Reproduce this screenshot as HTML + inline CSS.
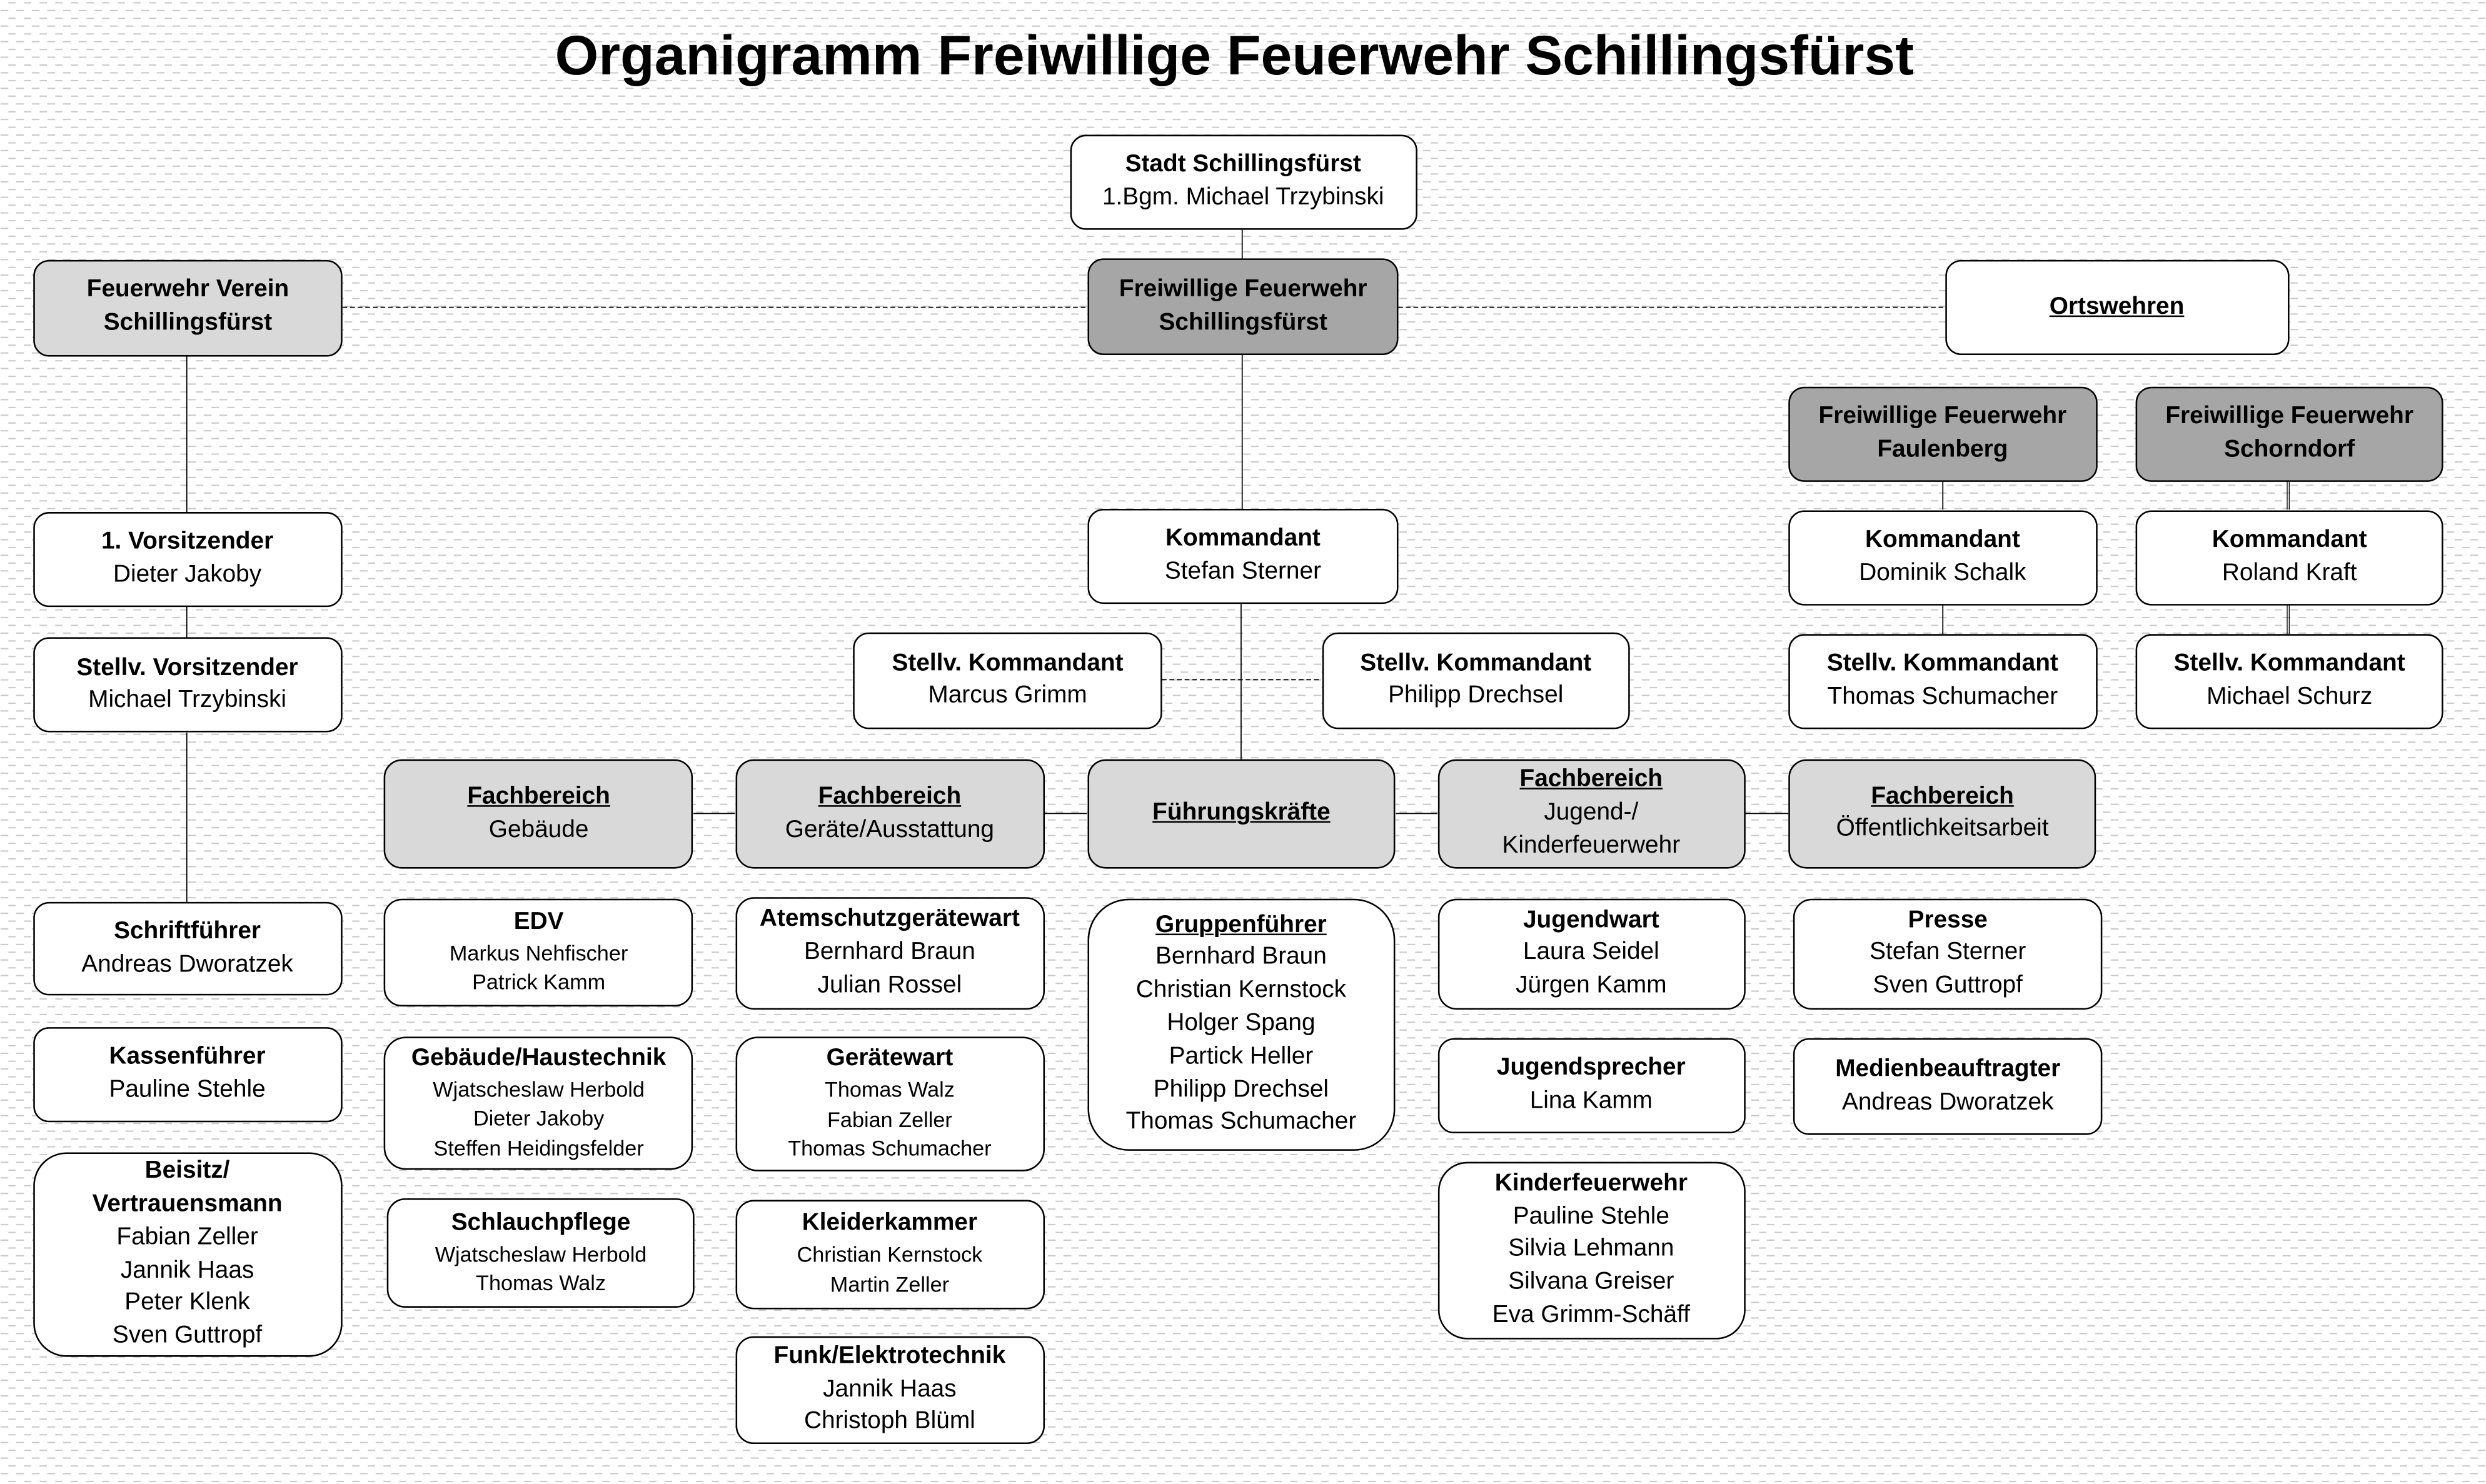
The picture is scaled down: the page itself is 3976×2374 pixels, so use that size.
<!DOCTYPE html>
<html><head><meta charset="utf-8">
<style>
html,body{margin:0;padding:0;}
body{width:3976px;height:2374px;overflow:hidden;background:#fff;position:relative;}
#bg{position:absolute;left:0;top:0;}
#c{position:absolute;left:0;top:0;width:1568px;height:936px;transform:scale(2.535714);transform-origin:0 0;font-family:"Liberation Sans",Arial,sans-serif;color:#000;}
#lines{position:absolute;left:0;top:0;overflow:visible;}
.b{position:absolute;box-sizing:border-box;border:1.2px solid #000;display:flex;flex-direction:column;justify-content:center;align-items:center;text-align:center;font-size:15.3px;line-height:20.8px;white-space:nowrap;background:#fff;}
.b div{height:20.8px;}
.b div.s{font-size:13.5px;line-height:18.5px;height:18.5px;}
.l{background:#d9d9d9;}
.d{background:#a6a6a6;}
.h{font-weight:bold;}
u{text-decoration-thickness:1.1px;}
#t{position:absolute;left:0;top:16px;width:1557.2px;text-align:center;font-size:35.3px;line-height:40px;font-weight:bold;white-space:nowrap;}
</style></head>
<body>
<svg id="bg" width="3976" height="2374" xmlns="http://www.w3.org/2000/svg">
<defs>
<pattern id="p" x="0" y="0" width="25" height="24.9" patternUnits="userSpaceOnUse">
<rect x="13.3" y="3.4" width="12.5" height="2.1" fill="#c9c9c9"/>
<rect x="0.8" y="15.8" width="12.5" height="2.1" fill="#c9c9c9"/>
</pattern>
</defs>
<rect width="3976" height="2374" fill="#fff"/>
<rect width="3976" height="2374" fill="url(#p)"/>
</svg>

<div id="c">
<svg id="lines" width="1568" height="936" xmlns="http://www.w3.org/2000/svg">
<g stroke="#000" stroke-width="0.7" fill="none">
<line x1="783.5" y1="145" x2="783.5" y2="163.6"/>
<line x1="783.5" y1="224" x2="783.5" y2="321"/>
<line x1="782.8" y1="381" x2="782.8" y2="479"/>
<line x1="117.8" y1="224.5" x2="117.8" y2="323.2"/>
<line x1="117.8" y1="382.5" x2="117.8" y2="402.5"/>
<line x1="117.8" y1="462.2" x2="117.8" y2="569"/>
<line x1="437.3" y1="513.2" x2="463.5" y2="513.2"/>
<line x1="658.8" y1="513.2" x2="685.6" y2="513.2"/>
<line x1="880.4" y1="513.2" x2="906.6" y2="513.2"/>
<line x1="1100.6" y1="513.2" x2="1128" y2="513.2"/>
<line x1="1225.4" y1="303.8" x2="1225.4" y2="321.5"/>
<line x1="1225.4" y1="381.9" x2="1225.4" y2="400"/>
<line x1="1442.6" y1="303.8" x2="1442.6" y2="321.5" stroke-width="0.5"/>
<line x1="1443.9" y1="303.8" x2="1443.9" y2="321.5" stroke-width="0.5"/>
<line x1="1442.6" y1="381.9" x2="1442.6" y2="400" stroke-width="0.5"/>
<line x1="1443.9" y1="381.9" x2="1443.9" y2="400" stroke-width="0.5"/>
</g>
<g stroke="#000" stroke-width="0.7" fill="none" stroke-dasharray="3 1.8">
<line x1="216" y1="193.9" x2="686.3" y2="193.9"/>
<line x1="881.9" y1="193.9" x2="1226.5" y2="193.9"/>
<line x1="732.8" y1="428.8" x2="833.5" y2="428.8"/>
</g>
</svg>

<div id="t">Organigramm Freiwillige Feuerwehr Schillingsfürst</div>

<!-- top -->
<div class="b" style="left:674.6px;top:84.5px;width:219px;height:60.7px;border-radius:10px;"><div class="h">Stadt Schillingsfürst</div><div>1.Bgm. Michael Trzybinski</div></div>
<div class="b d" style="left:686.3px;top:163.4px;width:195.6px;height:60.7px;border-radius:10px;"><div class="h">Freiwillige Feuerwehr</div><div class="h">Schillingsfürst</div></div>
<div class="b l" style="left:21px;top:164px;width:195px;height:60.5px;border-radius:10px;"><div class="h">Feuerwehr Verein</div><div class="h">Schillingsfürst</div></div>
<div class="b" style="left:1226.5px;top:163.5px;width:217.3px;height:60.8px;border-radius:10px;"><div class="h"><u>Ortswehren</u></div></div>

<!-- Ortswehren -->
<div class="b d" style="left:1128px;top:243.6px;width:194.5px;height:60.2px;border-radius:10px;"><div class="h">Freiwillige Feuerwehr</div><div class="h">Faulenberg</div></div>
<div class="b d" style="left:1346.8px;top:243.6px;width:194.5px;height:60.2px;border-radius:10px;"><div class="h">Freiwillige Feuerwehr</div><div class="h">Schorndorf</div></div>
<div class="b" style="left:1128px;top:321.5px;width:194.5px;height:60.4px;border-radius:10px;"><div class="h">Kommandant</div><div>Dominik Schalk</div></div>
<div class="b" style="left:1346.8px;top:321.5px;width:194.5px;height:60.4px;border-radius:10px;"><div class="h">Kommandant</div><div>Roland Kraft</div></div>
<div class="b" style="left:1128px;top:400px;width:194.5px;height:60.3px;border-radius:10px;"><div class="h">Stellv. Kommandant</div><div>Thomas Schumacher</div></div>
<div class="b" style="left:1346.8px;top:400px;width:194.5px;height:60.3px;border-radius:10px;"><div class="h">Stellv. Kommandant</div><div>Michael Schurz</div></div>

<!-- Kommandant -->
<div class="b" style="left:686.4px;top:320.7px;width:195.2px;height:60.5px;border-radius:10px;"><div class="h">Kommandant</div><div>Stefan Sterner</div></div>
<div class="b" style="left:538.3px;top:399.2px;width:194.5px;height:60.6px;border-radius:10px;"><div class="h">Stellv. Kommandant</div><div>Marcus Grimm</div></div>
<div class="b" style="left:833.5px;top:399.2px;width:194.6px;height:60.6px;border-radius:10px;"><div class="h">Stellv. Kommandant</div><div>Philipp Drechsel</div></div>

<!-- Verein column -->
<div class="b" style="left:20.6px;top:323px;width:195.1px;height:59.6px;border-radius:10px;"><div class="h">1. Vorsitzender</div><div>Dieter Jakoby</div></div>
<div class="b" style="left:20.6px;top:402.3px;width:195.1px;height:60px;border-radius:10px;"><div class="h">Stellv. Vorsitzender</div><div>Michael Trzybinski</div></div>
<div class="b" style="left:20.6px;top:568.7px;width:195.1px;height:59.7px;border-radius:10px;"><div class="h">Schriftführer</div><div>Andreas Dworatzek</div></div>
<div class="b" style="left:20.6px;top:648px;width:195.1px;height:59.7px;border-radius:10px;"><div class="h">Kassenführer</div><div>Pauline Stehle</div></div>
<div class="b" style="left:20.6px;top:727.2px;width:195.1px;height:128.7px;border-radius:21px;"><div class="h">Beisitz/</div><div class="h">Vertrauensmann</div><div>Fabian Zeller</div><div>Jannik Haas</div><div>Peter Klenk</div><div>Sven Guttropf</div></div>

<!-- Fachbereich row -->
<div class="b l" style="left:242.3px;top:479px;width:195px;height:69.4px;border-radius:11.5px;"><div class="h"><u>Fachbereich</u></div><div>Gebäude</div></div>
<div class="b l" style="left:463.5px;top:479px;width:195.3px;height:69.4px;border-radius:11.5px;"><div class="h"><u>Fachbereich</u></div><div>Geräte/Ausstattung</div></div>
<div class="b l" style="left:685.6px;top:478.6px;width:194.8px;height:69.8px;border-radius:11.5px;"><div class="h"><u>Führungskräfte</u></div></div>
<div class="b l" style="left:906.6px;top:478.6px;width:194px;height:69.8px;border-radius:11.5px;"><div class="h"><u>Fachbereich</u></div><div>Jugend-/</div><div>Kinderfeuerwehr</div></div>
<div class="b l" style="left:1128px;top:478.6px;width:194.3px;height:69.8px;border-radius:11.5px;"><div class="h"><u>Fachbereich</u></div><div>Öffentlichkeitsarbeit</div></div>

<!-- Gebäude column -->
<div class="b" style="left:242.3px;top:566.6px;width:195px;height:68.8px;border-radius:11.4px;"><div class="h">EDV</div><div class="s">Markus Nehfischer</div><div class="s">Patrick Kamm</div></div>
<div class="b" style="left:242.3px;top:654px;width:195px;height:83.8px;border-radius:14px;"><div class="h">Gebäude/Haustechnik</div><div class="s">Wjatscheslaw Herbold</div><div class="s">Dieter Jakoby</div><div class="s">Steffen Heidingsfelder</div></div>
<div class="b" style="left:243.8px;top:756px;width:194.7px;height:69.4px;border-radius:11.5px;"><div class="h">Schlauchpflege</div><div class="s">Wjatscheslaw Herbold</div><div class="s">Thomas Walz</div></div>

<!-- Geräte column -->
<div class="b" style="left:463.5px;top:566px;width:195.3px;height:70.6px;border-radius:11.7px;"><div class="h">Atemschutzgerätewart</div><div>Bernhard Braun</div><div>Julian Rossel</div></div>
<div class="b" style="left:463.5px;top:654px;width:195.3px;height:85px;border-radius:14px;"><div class="h">Gerätewart</div><div class="s">Thomas Walz</div><div class="s">Fabian Zeller</div><div class="s">Thomas Schumacher</div></div>
<div class="b" style="left:463.5px;top:756.6px;width:195.3px;height:69.4px;border-radius:11.5px;"><div class="h">Kleiderkammer</div><div class="s">Christian Kernstock</div><div class="s">Martin Zeller</div></div>
<div class="b" style="left:463.5px;top:842.8px;width:195.3px;height:68.6px;border-radius:11.4px;"><div class="h">Funk/Elektrotechnik</div><div>Jannik Haas</div><div>Christoph Blüml</div></div>

<!-- Führungskräfte -->
<div class="b" style="left:685.6px;top:567.2px;width:194.4px;height:158.4px;border-radius:26px;"><div class="h"><u>Gruppenführer</u></div><div>Bernhard Braun</div><div>Christian Kernstock</div><div>Holger Spang</div><div>Partick Heller</div><div>Philipp Drechsel</div><div>Thomas Schumacher</div></div>

<!-- Jugend column -->
<div class="b" style="left:906.6px;top:566.7px;width:194px;height:70.3px;border-radius:11.7px;"><div class="h">Jugendwart</div><div>Laura Seidel</div><div>Jürgen Kamm</div></div>
<div class="b" style="left:906.6px;top:654.6px;width:194px;height:60.4px;border-radius:10px;"><div class="h">Jugendsprecher</div><div>Lina Kamm</div></div>
<div class="b" style="left:906.6px;top:733.2px;width:194px;height:111.4px;border-radius:18.5px;"><div class="h">Kinderfeuerwehr</div><div>Pauline Stehle</div><div>Silvia Lehmann</div><div>Silvana Greiser</div><div>Eva Grimm-Schäff</div></div>

<!-- Öffentlichkeit column -->
<div class="b" style="left:1131.3px;top:566.5px;width:194.5px;height:70.5px;border-radius:11.7px;"><div class="h">Presse</div><div>Stefan Sterner</div><div>Sven Guttropf</div></div>
<div class="b" style="left:1131.3px;top:655.4px;width:194.5px;height:60.6px;border-radius:10px;"><div class="h">Medienbeauftragter</div><div>Andreas Dworatzek</div></div>
</div>
</body></html>
